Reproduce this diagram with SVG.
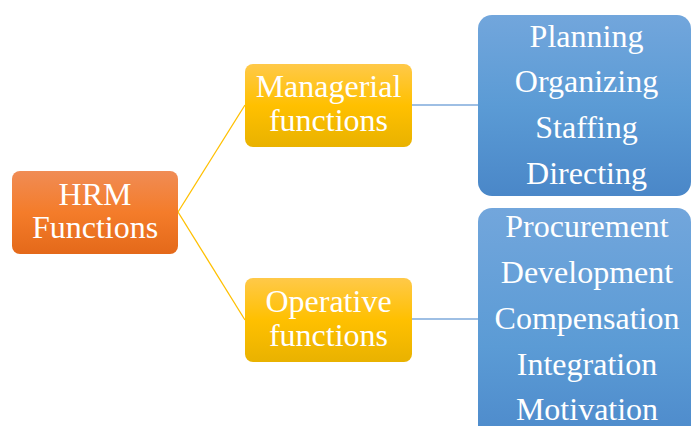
<svg xmlns="http://www.w3.org/2000/svg" width="691" height="426" viewBox="0 0 691 426">
<defs>
<linearGradient id="gOrange" x1="0" y1="0" x2="0" y2="1">
<stop offset="0" stop-color="#F08C55"/>
<stop offset="0.5" stop-color="#F47C2A"/>
<stop offset="1" stop-color="#E4691A"/>
</linearGradient>
<linearGradient id="gYellow" x1="0" y1="0" x2="0" y2="1">
<stop offset="0" stop-color="#FFC949"/>
<stop offset="0.5" stop-color="#FFC000"/>
<stop offset="1" stop-color="#E9B200"/>
</linearGradient>
<linearGradient id="gBlue" x1="0" y1="0" x2="0" y2="1">
<stop offset="0" stop-color="#72A6DC"/>
<stop offset="0.5" stop-color="#5B9BD5"/>
<stop offset="1" stop-color="#4A87C8"/>
</linearGradient>
<linearGradient id="gBlue2" x1="0" y1="0" x2="0" y2="1">
<stop offset="0" stop-color="#72A6DC"/>
<stop offset="0.6" stop-color="#5B9BD5"/>
<stop offset="1" stop-color="#4D8ACB"/>
</linearGradient>
</defs>
<style>
text{font-family:"Liberation Serif","Times New Roman",serif;fill:#FFFFFF;text-anchor:middle;font-size:32px}
.y{stroke:#FFC000;stroke-width:1.3;fill:none}
.b{stroke:#7EAADB;stroke-width:1.5;fill:none}
</style>
<rect width="691" height="426" fill="#FFFFFF"/>
<g id="connectors">
<line class="y" x1="178" y1="212" x2="245" y2="105"/>
<line class="y" x1="178" y1="212" x2="245" y2="320"/>
<line class="b" x1="412" y1="105" x2="478" y2="105"/>
<line class="b" x1="412" y1="319" x2="478" y2="319"/>
</g>
<g id="hrm">
<rect x="12" y="171" width="166" height="83" rx="8" fill="url(#gOrange)"/>
<text x="95" y="205">HRM</text>
<text x="95" y="238">Functions</text>
</g>
<g id="managerial">
<rect x="245" y="64" width="167" height="83" rx="8" fill="url(#gYellow)"/>
<text x="328.5" y="97">Managerial</text>
<text x="328.5" y="131">functions</text>
</g>
<g id="operative">
<rect x="245" y="278" width="167" height="84" rx="8" fill="url(#gYellow)"/>
<text x="328.5" y="312">Operative</text>
<text x="328.5" y="346">functions</text>
</g>
<g id="managerial-list">
<rect x="478" y="15" width="213" height="181" rx="14" fill="url(#gBlue)"/>
<text x="586.5" y="47">Planning</text>
<text x="586.5" y="92">Organizing</text>
<text x="586.5" y="138">Staffing</text>
<text x="586.5" y="184">Directing</text>
</g>
<g id="operative-list">
<rect x="478" y="208" width="213" height="232" rx="14" fill="url(#gBlue2)"/>
<text x="587" y="237">Procurement</text>
<text x="587" y="283">Development</text>
<text x="587" y="329">Compensation</text>
<text x="587" y="375">Integration</text>
<text x="587" y="420">Motivation</text>
</g>
</svg>
